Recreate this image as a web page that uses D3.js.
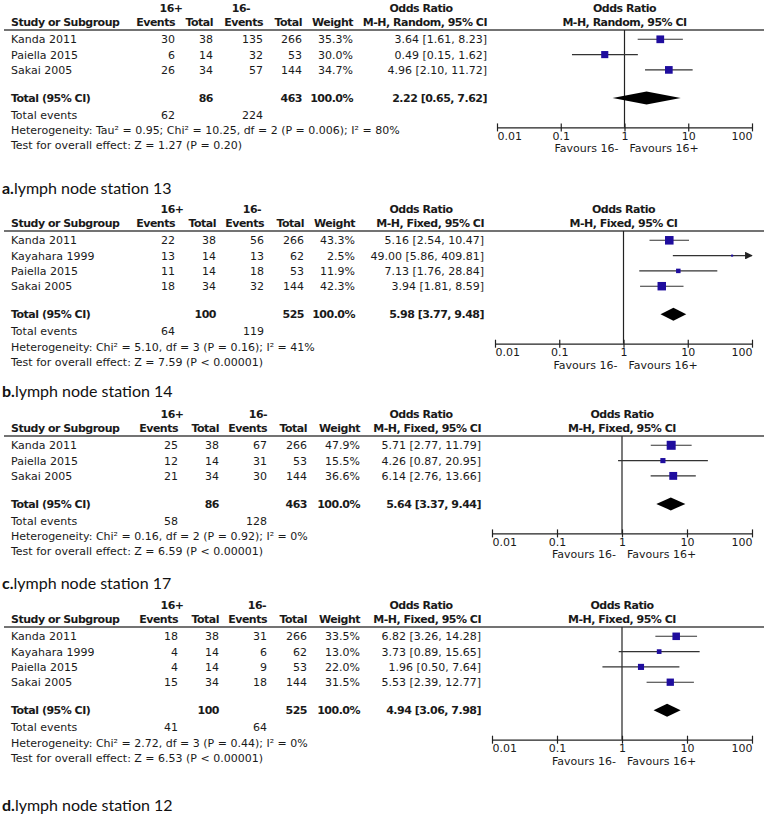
<!DOCTYPE html>
<html><head><meta charset="utf-8">
<script src="https://cdn.jsdelivr.net/npm/d3@7"></script>
<style>body{margin:0;background:#fff}</style>
</head><body>
<svg id="chart" width="764" height="815"></svg>
<script>
// ---------- data ----------
const panelLetters = ["a.", "b.", "c.", "d."];
const panelTitles = ["lymph node station 13", "lymph node station 14", "lymph node station 17", "lymph node station 12"];
const methods = ["M-H, Random, 95% CI", "M-H, Fixed, 95% CI", "M-H, Fixed, 95% CI", "M-H, Fixed, 95% CI"];
const groupLabels = ["16+", "16-"];
const studyNames = [
  ["Kanda 2011", "Paiella 2015", "Sakai 2005"],
  ["Kanda 2011", "Kayahara 1999", "Paiella 2015", "Sakai 2005"],
  ["Kanda 2011", "Paiella 2015", "Sakai 2005"],
  ["Kanda 2011", "Kayahara 1999", "Paiella 2015", "Sakai 2005"]
];
const eventsPlus  = [[30, 6, 26], [22, 13, 11, 18], [25, 12, 21], [18, 4, 4, 15]];
const totalPlus   = [[38, 14, 34], [38, 14, 14, 34], [38, 14, 34], [38, 14, 14, 34]];
const eventsMinus = [[135, 32, 57], [56, 13, 18, 32], [67, 31, 30], [31, 6, 9, 18]];
const totalMinus  = [[266, 53, 144], [266, 62, 53, 144], [266, 53, 144], [266, 62, 53, 144]];
const weights     = [[35.3, 30.0, 34.7], [43.3, 2.5, 11.9, 42.3], [47.9, 15.5, 36.6], [33.5, 13.0, 22.0, 31.5]];
const oddsRatios  = [[3.64, 0.49, 4.96], [5.16, 49.00, 7.13, 3.94], [5.71, 4.26, 6.14], [6.82, 3.73, 1.96, 5.53]];
const ciLow       = [[1.61, 0.15, 2.10], [2.54, 5.86, 1.76, 1.81], [2.77, 0.87, 2.76], [3.26, 0.89, 0.50, 2.39]];
const ciHigh      = [[8.23, 1.62, 11.72], [10.47, 409.81, 28.84, 8.59], [11.79, 20.95, 13.66], [14.28, 15.65, 7.64, 12.77]];
const pooledOR    = [2.22, 5.98, 5.64, 4.94];
const pooledLow   = [0.65, 3.77, 3.37, 3.06];
const pooledHigh  = [7.62, 9.48, 9.44, 7.98];
const sumTotalPlus  = [86, 100, 86, 100];
const sumTotalMinus = [463, 525, 463, 525];
const sumEventsPlus  = [62, 64, 58, 41];
const sumEventsMinus = [224, 119, 128, 64];
const heterogeneity = [
  "Heterogeneity: Tau\u00b2 = 0.95; Chi\u00b2 = 10.25, df = 2 (P = 0.006); I\u00b2 = 80%",
  "Heterogeneity: Chi\u00b2 = 5.10, df = 3 (P = 0.16); I\u00b2 = 41%",
  "Heterogeneity: Chi\u00b2 = 0.16, df = 2 (P = 0.92); I\u00b2 = 0%",
  "Heterogeneity: Chi\u00b2 = 2.72, df = 3 (P = 0.44); I\u00b2 = 0%"
];
const overallTest = [
  "Test for overall effect: Z = 1.27 (P = 0.20)",
  "Test for overall effect: Z = 7.59 (P < 0.00001)",
  "Test for overall effect: Z = 6.59 (P < 0.00001)",
  "Test for overall effect: Z = 6.53 (P < 0.00001)"
];
const axisTicks = [0.01, 0.1, 1, 10, 100];
const tickLabels = ["0.01", "0.1", "1", "10", "100"];
const favourLabels = ["Favours 16-", "Favours 16+"];

// ---------- layout ----------
const FONT = "'DejaVu Sans', Verdana, sans-serif";
const LABEL_FONT = "Lato, 'Open Sans', sans-serif";
const headerLineY = [30, 231, 436, 627];
const plotLeft = [497, 495, 492, 492];
const plotRight = 752;
const colRight = [[175, 213, 263, 302, 353, 487], [175, 216, 264, 304, 355, 484], [178, 219, 267, 307, 360, 481], [178, 219, 267, 307, 360, 481]];
const groupCenter = [[171, 241], [172, 252], [172, 258], [172, 257]];
const labelBaseline = [194, 397, 589, 811];
const ROW = 15.3;
const SQUARE = "#1f0d9e";
const f2 = d3.format(".2f"), f1 = d3.format(".1f");

const svg = d3.select("#chart");
svg.append("defs").append("marker")
  .attr("id", "arrow").attr("viewBox", "0 0 10 10").attr("refX", 9).attr("refY", 5)
  .attr("markerWidth", 7).attr("markerHeight", 7).attr("orient", "auto")
  .append("path").attr("d", "M0,0 L10,5 L0,10 z").attr("fill", "#222");

function txt(g, x, y, s, o = {}) {
  const t = g.append("text").attr("x", x).attr("y", y).text(s)
    .attr("font-family", FONT).attr("font-size", o.size || 11)
    .attr("font-weight", o.bold ? "bold" : "normal")
    .attr("text-anchor", o.anchor || "start").attr("fill", "#1a1a1a");
  if (o.bold) t.attr("letter-spacing", "-0.5px");
  return t;
}

panelLetters.forEach((letter, p) => {
  const g = svg.append("g");
  const L = headerLineY[p];
  const c = colRight[p];
  const n = studyNames[p].length;
  const x = d3.scaleLog().domain([axisTicks[0], axisTicks[axisTicks.length - 1]]).range([plotLeft[p], plotRight]);
  const x1 = x(1);
  const rowBase = i => L + 13.3 + i * ROW;
  const T = rowBase(n - 1) + 28;      // total row baseline
  const axisY = T + 25.5;

  // header
  txt(g, groupCenter[p][0], L - 18.5, groupLabels[0], {bold: true, anchor: "middle"});
  txt(g, groupCenter[p][1], L - 18.5, groupLabels[1], {bold: true, anchor: "middle"});
  txt(g, 421, L - 18.5, "Odds Ratio", {bold: true, anchor: "middle"});
  txt(g, x1, L - 18.5, "Odds Ratio", {bold: true, anchor: "middle"});
  const hb = L - 4.5;
  txt(g, 11, hb, "Study or Subgroup", {bold: true});
  ["Events", "Total", "Events", "Total", "Weight"].forEach((h, k) => txt(g, c[k], hb, h, {bold: true, anchor: "end"}));
  txt(g, c[5], hb, methods[p], {bold: true, anchor: "end"});
  txt(g, x1, hb, methods[p], {bold: true, anchor: "middle"});
  g.append("line").attr("x1", 4).attr("x2", 764).attr("y1", L).attr("y2", L)
    .attr("stroke", "#444").attr("stroke-width", 1.4);

  // vertical line of no effect
  g.append("line").attr("x1", x1).attr("x2", x1).attr("y1", L).attr("y2", axisY)
    .attr("stroke", "#222").attr("stroke-width", 1.2);

  // study rows
  studyNames[p].forEach((name, i) => {
    const y = rowBase(i);
    txt(g, 11, y, name);
    txt(g, c[0], y, eventsPlus[p][i], {anchor: "end"});
    txt(g, c[1], y, totalPlus[p][i], {anchor: "end"});
    txt(g, c[2], y, eventsMinus[p][i], {anchor: "end"});
    txt(g, c[3], y, totalMinus[p][i], {anchor: "end"});
    txt(g, c[4], y, f1(weights[p][i]) + "%", {anchor: "end"});
    txt(g, c[5], y, `${f2(oddsRatios[p][i])} [${f2(ciLow[p][i])}, ${f2(ciHigh[p][i])}]`, {anchor: "end"});
    const cy = y - 4;
    const hiClamped = Math.min(ciHigh[p][i], axisTicks[axisTicks.length - 1]);
    const ln = g.append("line").attr("x1", x(ciLow[p][i])).attr("x2", x(hiClamped))
      .attr("y1", cy).attr("y2", cy).attr("stroke", "#333").attr("stroke-width", 1.1);
    if (ciHigh[p][i] > hiClamped) ln.attr("marker-end", "url(#arrow)");
    const s = 1.3 * Math.sqrt(weights[p][i]);
    g.append("rect").attr("x", x(oddsRatios[p][i]) - s / 2).attr("y", cy - s / 2)
      .attr("width", s).attr("height", s).attr("fill", SQUARE);
  });

  // total row
  txt(g, 11, T, "Total (95% CI)", {bold: true});
  txt(g, c[1], T, sumTotalPlus[p], {bold: true, anchor: "end"});
  txt(g, c[3], T, sumTotalMinus[p], {bold: true, anchor: "end"});
  txt(g, c[4], T, "100.0%", {bold: true, anchor: "end"});
  txt(g, c[5], T, `${f2(pooledOR[p])} [${f2(pooledLow[p])}, ${f2(pooledHigh[p])}]`, {bold: true, anchor: "end"});
  const dy = T - 4;
  g.append("path")
    .attr("d", `M${x(pooledLow[p])},${dy} L${x(pooledOR[p])},${dy - 6.5} L${x(pooledHigh[p])},${dy} L${x(pooledOR[p])},${dy + 6.5} Z`)
    .attr("fill", "#000");

  txt(g, 11, T + 17, "Total events");
  txt(g, c[0], T + 17, sumEventsPlus[p], {anchor: "end"});
  txt(g, c[2], T + 17, sumEventsMinus[p], {anchor: "end"});
  txt(g, 11, T + 32.5, heterogeneity[p]);
  txt(g, 11, T + 47.5, overallTest[p]);

  // axis
  const ax = g.append("g").attr("transform", `translate(0,${axisY})`)
    .call(d3.axisBottom(x).tickValues(axisTicks).tickFormat((d, i) => tickLabels[i]).tickSizeOuter(0).tickSizeInner(4));
  ax.select(".domain").attr("stroke", "#222").attr("stroke-width", 1.3);
  ax.selectAll(".tick line").attr("y1", -4).attr("y2", 4).attr("stroke", "#222").attr("stroke-width", 1.2);
  ax.selectAll(".tick text").attr("y", 5).attr("dy", "0.71em")
    .attr("font-family", FONT).attr("font-size", 11).attr("fill", "#1a1a1a")
    .attr("text-anchor", (d, i) => i === 0 ? "start" : (i === axisTicks.length - 1 ? "end" : "middle"));
  txt(g, x1 - 6, axisY + 25, favourLabels[0], {anchor: "end"});
  txt(g, x1 + 5, axisY + 25, favourLabels[1]);

  // panel label
  const lab = g.append("text").attr("x", 2).attr("y", labelBaseline[p])
    .attr("font-family", LABEL_FONT).attr("font-size", 16).attr("fill", "#111");
  lab.append("tspan").attr("font-weight", "bold").text(letter);
  lab.append("tspan").text(panelTitles[p]);
});
</script>
</body></html>
